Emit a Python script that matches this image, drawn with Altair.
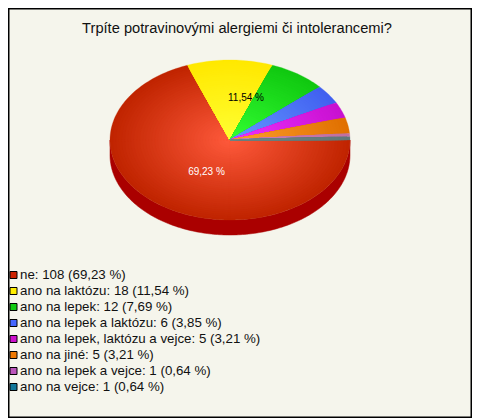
import numpy as np
import pandas as pd
import altair as alt

# ---- data ----
categories = ["ne", "ano na laktózu", "ano na lepek", "ano na lepek a laktózu",
              "ano na lepek, laktózu a vejce", "ano na jiné", "ano na lepek a vejce", "ano na vejce"]
counts = [108, 18, 12, 6, 5, 5, 1, 1]
percent_labels = ["69,23", "11,54", "7,69", "3,85", "3,21", "3,21", "0,64", "0,64"]
colors = ["#cc2200", "#ffee00", "#11cc11", "#4466ff", "#cc11cc", "#ee7700", "#bb55bb", "#117799"]
center_colors = ["#ff5a3c", "#ffff33", "#33ff33", "#6699ff", "#ee33ff", "#ffa030", "#d080c0", "#708888"]
rim_colors = ["#c02400", "#ffe800", "#10c810", "#4060f0", "#c810d0", "#e07000", "#c070a0", "#607878"]
title_text = "Trpíte potravinovými alergiemi či intolerancemi?"

W, H = 464, 410
CX, CY, RX, RY, DEPTH = 222, 132, 120, 80, 15
RINGS = 40
xscale = alt.Scale(domain=[-CX / RX, (W - CX) / RX], nice=False, zero=False)
yscale = alt.Scale(domain=[(CY - H) / RY, CY / RY], nice=False, zero=False)
ax = alt.X("x:Q", scale=xscale, axis=None)
ay = alt.Y("y:Q", scale=yscale, axis=None)


def hex_rgb(h):
    return np.array([int(h[i:i + 2], 16) for i in (1, 3, 5)], dtype=float)


def mix(a, b, f):
    c = hex_rgb(a) * (1 - f) + hex_rgb(b) * f
    return "#%02x%02x%02x" % tuple(int(round(v)) for v in c)


layers = []

# side wall (lower half of the rim, dropped by DEPTH)
t = np.radians(np.linspace(0, 180, 181))
dy = DEPTH / RY
wall = pd.DataFrame({
    "x": np.concatenate([np.cos(t), np.cos(t[::-1])]),
    "y": np.concatenate([-np.sin(t), -np.sin(t[::-1]) - dy]),
})
wall["i"] = range(len(wall))
layers.append(alt.Chart(wall).mark_line(fill="#aa0000", stroke="#aa0000", strokeWidth=0.5,
                                        interpolate="linear-closed")
              .encode(x=ax, y=ay, order="i:Q"))

# slices, clockwise from 3 o'clock, each shaded by nested wedges from rim to centre
total = sum(counts)
start = 0.0
for s, c in enumerate(counts):
    end = start + 360.0 * c / total
    n = max(2, int((end - start) / 1.5) + 2)
    ang = np.radians(np.linspace(start, end, n))
    frames = []
    for k in range(RINGS):
        f = 1 - k / RINGS
        fr = pd.DataFrame({
            "x": np.concatenate([[0], f * np.cos(ang)]),
            "y": np.concatenate([[0], -f * np.sin(ang)]),
        })
        fr["i"] = range(len(fr))
        fr["ring"] = k
        fr["shade"] = mix(center_colors[s], rim_colors[s], f)
        frames.append(fr)
    df = pd.concat(frames, ignore_index=True)
    for k, g in df.groupby("ring"):
        col = g["shade"].iloc[0]
        layers.append(alt.Chart(g[["x", "y", "i"]]).mark_line(fill=col, stroke=col, strokeWidth=0.3,
                                                              interpolate="linear-closed")
                      .encode(x=ax, y=ay, order="i:Q"))
    start = end

# labels on slices
pie_labels = pd.DataFrame({"t": [f"{percent_labels[0]} %", f"{percent_labels[1]} %"],
                           "px": [198.5, 238], "py": [164, 89.5], "c": ["white", "black"]})
layers.append(alt.Chart(pie_labels).mark_text(font="Liberation Sans", fontSize=10, align="center", baseline="middle")
              .encode(x=alt.X("px:Q", scale=None), y=alt.Y("py:Q", scale=None),
                      text="t:N", color=alt.Color("c:N", scale=None)))

# title
layers.append(alt.Chart(pd.DataFrame({"t": [title_text], "px": [229], "py": [21]}))
              .mark_text(font="Liberation Sans", fontSize=14.67, align="center", baseline="middle", color="#111111")
              .encode(x=alt.X("px:Q", scale=None), y=alt.Y("py:Q", scale=None), text="t:N"))

# legend
legend = pd.DataFrame({
    "t": [f"{n}: {c} ({p} %)" for n, c, p in zip(categories, counts, percent_labels)],
    "col": colors,
    "row": range(len(categories)),
})
legend["py"] = 267 + 16 * legend["row"]
legend["tx"] = 12
legend["sx"] = 5.5
layers.append(alt.Chart(legend).mark_square(size=49, opacity=1, stroke="black", strokeWidth=1, filled=True)
              .encode(x=alt.X("sx:Q", scale=None), y=alt.Y("py:Q", scale=None),
                      fill=alt.Fill("col:N", scale=None)))
layers.append(alt.Chart(legend).mark_text(font="Liberation Sans", fontSize=13.3, align="left", baseline="middle", color="#111111")
              .encode(x=alt.X("tx:Q", scale=None), y=alt.Y("py:Q", scale=None), text="t:N"))

chart = alt.layer(*layers).resolve_scale(x="independent", y="independent").properties(
    width=W, height=H, padding=0, background="#f5f5ec", autosize=alt.AutoSizeParams(type="none")
).configure_view(stroke="black", strokeWidth=3)

chart.save("out.html", embed_options={"renderer": "svg", "actions": False})
